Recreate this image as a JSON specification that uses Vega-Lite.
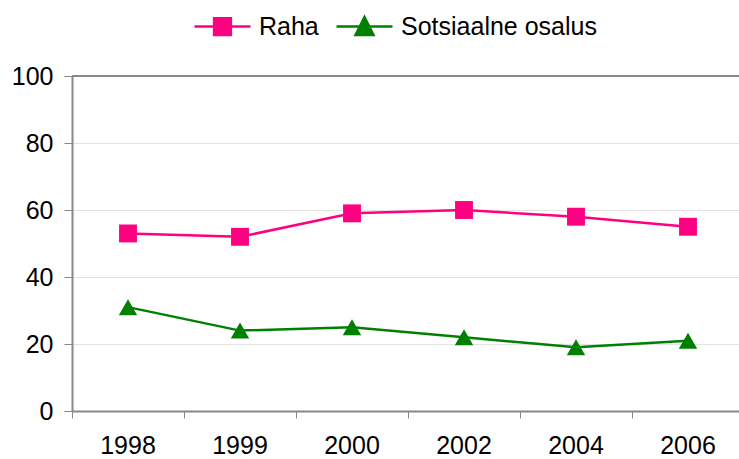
{
  "$schema": "https://vega.github.io/schema/vega-lite/v6.json",
  "width": 667,
  "height": 335,
  "autosize": {"type": "none"},
  "padding": {"left": 72, "top": 76, "right": 0, "bottom": 48},
  "background": "white",
  "config": {"view": {"stroke": null}, "font": "Liberation Sans"},
  "data": {
    "values": [
      {"year": "1998", "series": "Raha", "value": 53},
      {"year": "1999", "series": "Raha", "value": 52},
      {"year": "2000", "series": "Raha", "value": 59},
      {"year": "2002", "series": "Raha", "value": 60},
      {"year": "2004", "series": "Raha", "value": 58},
      {"year": "2006", "series": "Raha", "value": 55},
      {"year": "1998", "series": "Sotsiaalne osalus", "value": 31},
      {"year": "1999", "series": "Sotsiaalne osalus", "value": 24},
      {"year": "2000", "series": "Sotsiaalne osalus", "value": 25},
      {"year": "2002", "series": "Sotsiaalne osalus", "value": 22},
      {"year": "2004", "series": "Sotsiaalne osalus", "value": 19},
      {"year": "2006", "series": "Sotsiaalne osalus", "value": 21}
    ]
  },
  "layer": [
    {
      "mark": {"type": "line", "strokeWidth": 2.5},
      "encoding": {
        "x": {
          "field": "year", "type": "ordinal", "sort": null,
          "scale": {"type": "band", "range": [0, 672], "paddingInner": 0, "paddingOuter": 0},
          "axis": {
            "title": null, "bandPosition": 0, "labelOffset": 0, "labelAngle": 0,
            "tickSize": 7, "tickColor": "#888888", "tickWidth": 1,
            "domainColor": "#888888", "domainWidth": 2,
            "labelFontSize": 25, "labelColor": "black", "labelPadding": 15,
            "labelOverlap": false, "labelFlush": false, "labelBound": false, "grid": false
          }
        },
        "y": {
          "field": "value", "type": "quantitative",
          "scale": {"domain": [0, 100], "nice": false},
          "axis": {
            "title": null, "values": [0, 20, 40, 60, 80, 100],
            "grid": true, "gridColor": "#e3e3e3", "gridWidth": 1,
            "domainColor": "#888888", "domainWidth": 2,
            "tickColor": "#888888", "tickSize": 8,
            "labelFontSize": 25, "labelColor": "black", "labelPadding": 11
          }
        },
        "color": {
          "field": "series", "type": "nominal",
          "scale": {"domain": ["Raha", "Sotsiaalne osalus"], "range": ["#FF0080", "#008000"]},
          "legend": {
            "orient": "none", "legendX": 121, "legendY": -79,
            "direction": "horizontal", "columns": 2, "title": null,
            "symbolSize": 3136, "symbolStrokeWidth": 2.5,
            "labelFontSize": 25, "labelColor": "black", "labelOffset": 7, "labelLimit": 400,
            "columnPadding": 12, "padding": 0,
            "encode": {
              "symbols": {
                "update": {
                  "shape": {"signal": "datum.value === 'Raha' ? 'M-1,0H1M-0.3,-0.3H0.3V0.3H-0.3Z' : 'M-1,0H1M0,-0.34L0.32,0.3H-0.32Z'"},
                  "stroke": {"signal": "datum.value === 'Raha' ? '#FF0080' : '#008000'"},
                  "fill": {"signal": "datum.value === 'Raha' ? '#FF0080' : '#008000'"},
                  "opacity": {"value": 1},
                  "fillOpacity": {"value": 1},
                  "strokeWidth": {"value": 2.5}
                }
              }
            }
          }
        }
      }
    },
    {
      "data": {"values": [{}]},
      "mark": {"type": "rule", "color": "#888888", "strokeWidth": 2},
      "encoding": {"y": {"datum": 100, "type": "quantitative"}}
    },
    {
      "transform": [{"filter": "datum.series === 'Raha'"}],
      "mark": {"type": "point", "filled": true, "opacity": 1, "size": 320, "shape": "square"},
      "encoding": {
        "x": {"field": "year", "type": "ordinal", "sort": null},
        "y": {"field": "value", "type": "quantitative"},
        "color": {"field": "series", "type": "nominal"}
      }
    },
    {
      "transform": [{"filter": "datum.series !== 'Raha'"}],
      "mark": {"type": "point", "filled": true, "opacity": 1, "size": 340, "shape": "triangle-up"},
      "encoding": {
        "x": {"field": "year", "type": "ordinal", "sort": null},
        "y": {"field": "value", "type": "quantitative"},
        "color": {"field": "series", "type": "nominal"}
      }
    }
  ]
}
